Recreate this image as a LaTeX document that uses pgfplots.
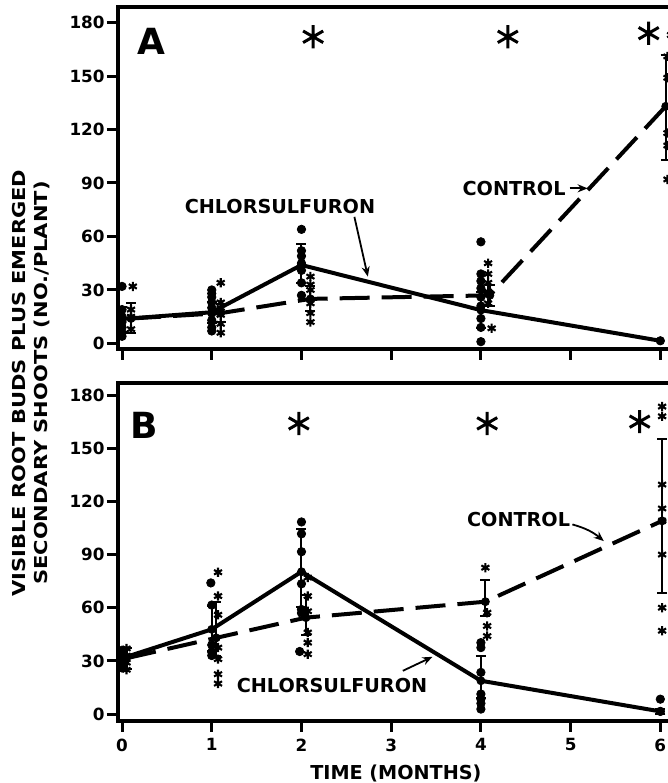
\documentclass[border=0pt]{standalone}
\usepackage{fontspec}
\setmainfont{DejaVu Sans}
\newfontfamily\labfont{DejaVu Sans}[FakeStretch=1.18]
\usepackage{pgfplots}
\pgfplotsset{compat=1.18}
\usetikzlibrary{arrows.meta}

% 1px of the reference = 0.5pt
\pgfplotsset{
 panel/.style={
  scale only axis, width=277.9pt,
  xmin=-0.045, xmax=6.15,
  axis line style={line width=2pt},
  every tick/.style={line width=1.5pt, black},
  tick align=outside, major tick length=5.5pt,
  xtick={0,...,6}, ytick={0,30,...,180},
  xtick pos=left, ytick pos=left,
  tick label style={font=\fontsize{8.4}{9}\selectfont\bfseries},
  yticklabel style={inner sep=1pt},
  /pgf/number format/assume math mode=true,
  clip=false,
 },
 chl/.style={black, line width=2pt, mark=none},
 ctl/.style={black, line width=2pt, dash pattern=on 15pt off 6pt, mark=none},
 dots/.style={only marks, mark=*, mark size=2.1pt, black},
 stars/.style={only marks, mark=asterisk, mark size=2.3pt, black, mark options={line width=1.05pt}},
 ebar/.style={only marks, mark=none, black,
  error bars/y dir=both, error bars/y explicit,
  error bars/error bar style={line width=1pt},
  error bars/error mark options={rotate=90, mark size=2.5pt, line width=1pt}},
 sig/.style={only marks, mark=asterisk, mark size=5.8pt, black, mark options={line width=1.5pt}},
}
\tikzset{
 lab/.style={font=\fontsize{9.6}{11}\selectfont\bfseries},
 arr/.style={-{Stealth[length=5pt,width=4pt]}, line width=0.9pt},
}

\begin{document}
\begin{tikzpicture}
% ---------------- panel A ----------------
\begin{axis}[panel, name=A, at={(0,0)}, anchor=north west,
  height=170.9pt, ymin=-3, ymax=188.7, xticklabels={}]
% chlorsulfuron
\addplot[dots] coordinates {
 (0,32)(0,19)(0,15)(0,12)(0,9)(0,6)(0,4)
 (1,30)(1,28)(1,26)(1,23)(1,20)(1,17)(1,13)(1,9)(1,7)
 (2,64)(2,52)(2,49)(2,45)(2,41)(2,34)(2,27)
 (4,57)(4,39)(4,35)(4,31)(4,26)(4,21)(4,14)(4,9)(4,1)
 (6,1.5)};
\addplot[ebar] coordinates {
 (0,13.7) +- (0,7)
 (1,17.5) +- (0,6)
 (2,44) += (0,12) -= (0,10)
 (4,18.7) +- (0,10)};
\addplot[chl] coordinates {(0,13.7)(1,17.5)(2,44)(4,18.7)(6,1.5)};
% control
\addplot[stars] coordinates {
 (0.12,32)(0.1,19)(0.1,15)(0.1,8)
 (1.1,34)(1.1,23)(1.1,20)(1.1,16)(1.1,11)(1.1,6)
 (2.1,37.5)(2.1,33)(2.1,30)(2.1,22.5)(2.1,17)(2.1,12)
 (4.08,45)(4.08,39)(4.08,34)(4.08,29)(4.08,22.5)(4.12,8.5)
 (6.12,173)(6.08,161)(6.08,149)(6.08,118)(6.08,111)(6.08,92)};
\addplot[ebar] coordinates {
 (0.1,14) += (0,8.8) -= (0,8.4)
 (1.1,17) +- (0,5)
 (2.1,25) +- (0,7)
 (4.1,27) +- (0,6)
 (6.06,133) += (0,29) -= (0,30)};
\addplot[ctl] coordinates {(0.1,14)(1.1,17)(2.1,25)(4.1,27)(6.06,133)};
% significance
\addplot[sig] coordinates {(2.13,172)(4.3,172)(5.87,174)};
\node[font=\fontsize{18}{20}\selectfont\bfseries] at (axis cs:0.33,169.5) {A};
\node[lab] at (axis cs:1.76,76.8) {CHLORSULFURON};
\draw[arr] (axis cs:2.59,71) -- (axis cs:2.74,37.5);
\node[lab] at (axis cs:4.37,87) {CONTROL};
\draw[arr] (axis cs:4.99,87) -- (axis cs:5.19,87);
\end{axis}

% ---------------- panel B ----------------
\begin{axis}[panel, name=B, at={(0,-188pt)}, anchor=north west,
  height=168.8pt, ymin=-3.7, ymax=186.8,
  xlabel={TIME (MONTHS)},
  xlabel style={font=\fontsize{9.6}{11}\selectfont\bfseries}]
% chlorsulfuron
\addplot[dots] coordinates {
 (0,36)(0,33)(0,30)(0,28)(0,26)
 (0.99,74)(1,61.5)(1,39)(1,35)(1,33)
 (2,108.4)(2,101.7)(2,91.6)(2,73.5)(2,59)(2,57)(1.98,35.3)
 (4,40.3)(4,37.5)(4,23.5)(4,11.3)(4,8.4)(4,6)(4,2.8)
 (6,8.4)(6,1.5)};
\addplot[ebar] coordinates {
 (0,31.5) +- (0,4)
 (1,47.8) += (0,13) -= (0,12)
 (2,80.3) += (0,24.4) -= (0,20)
 (4,18.8) += (0,14) -= (0,10)
 (6,1.5) +- (0,1.5)};
\addplot[chl] coordinates {(0,31.5)(1,47.8)(2,80.3)(4,18.8)(6,1.5)};
% control
\addplot[stars] coordinates {
 (0.05,37)(0.05,33)(0.05,29)(0.05,25)
 (1.07,80)(1.07,66.6)(1.07,56)(1.07,37.5)(1.07,31)(1.07,22.5)(1.07,17.2)
 (2.07,77)(2.07,66.6)(2.07,58)(2.07,46)(2.07,40.3)(2.07,33.8)
 (4.05,82.6)(4.07,57.2)(4.07,49.7)(4.07,44)
 (6.02,173.5)(6.02,168)(6.02,129.5)(6.02,116)(6.02,109)(6.02,90)(6.02,60)(6.02,47)};
\addplot[ebar] coordinates {
 (0.05,31.5) +- (0,6)
 (1.05,43) += (0,20) -= (0,10)
 (2.05,54.4) += (0,13) -= (0,10)
 (4.05,63.4) += (0,12.2) -= (0,8)
 (6.02,109) += (0,46) -= (0,40.5)};
\addplot[ctl] coordinates {(0.05,31.5)(1.05,43)(2.05,54.4)(4.05,63.4)(6.02,109)};
% significance
\addplot[sig] coordinates {(1.97,164)(4.07,164)(5.77,165)};
\node[font=\fontsize{18}{20}\selectfont\bfseries] at (axis cs:0.25,163) {B};
\node[lab] at (axis cs:4.42,109.8) {CONTROL};
\draw[arr] (axis cs:5.02,107) to[bend left=12] (axis cs:5.37,97.6);
\node[lab] at (axis cs:2.34,16) {CHLORSULFURON};
\draw[arr] (axis cs:3.13,24.4) -- (axis cs:3.46,32.3);
\end{axis}

\node[rotate=90, align=center, font=\labfont\fontsize{8.9}{11}\selectfont\bfseries]
  at (-43.5pt,-188pt) {VISIBLE ROOT BUDS PLUS EMERGED\\SECONDARY SHOOTS (NO./PLANT)};

\pgfresetboundingbox
\path[use as bounding box] (-59pt,3.5pt) rectangle (275pt,-388pt);
\end{tikzpicture}
\end{document}
